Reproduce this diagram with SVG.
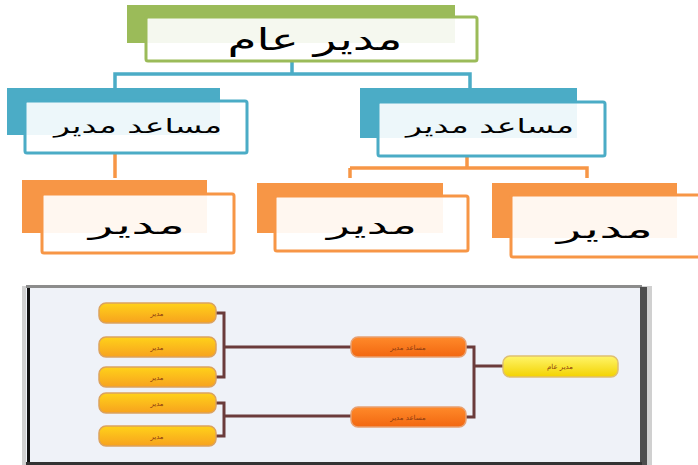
<svg xmlns="http://www.w3.org/2000/svg" width="698" height="465" viewBox="0 0 698 465">
<defs>
<style>
.t{font-family:"DejaVu Sans",sans-serif;fill:#000;text-anchor:middle}
.bk-b{fill:#4bacc6}
.fr-b{fill:#fff;fill-opacity:0.9;stroke:#4bacc6;stroke-width:3}
.bk-o{fill:#f79646}
.fr-o{fill:#fff;fill-opacity:0.92;stroke:#f79646;stroke-width:3}
.bk-g{fill:#9bbb59}
.fr-g{fill:#fff;fill-opacity:0.9;stroke:#9bbb59;stroke-width:3}
.cb{fill:none;stroke:#4bacc6;stroke-width:3.5}
.co{fill:none;stroke:#f79646;stroke-width:3.5}
.cd{fill:none;stroke:#6b3b3b;stroke-width:3}
.pt{font-family:"DejaVu Sans",sans-serif;font-size:7px;fill:#8a3a10;text-anchor:middle}
</style>
<linearGradient id="gy" x1="0" y1="0" x2="0" y2="1"><stop offset="0" stop-color="#ffd21a"/><stop offset="1" stop-color="#f7a21e"/></linearGradient>
<linearGradient id="go" x1="0" y1="0" x2="0" y2="1"><stop offset="0" stop-color="#ff8a2a"/><stop offset="1" stop-color="#f26710"/></linearGradient>
<linearGradient id="gl" x1="0" y1="0" x2="0" y2="1"><stop offset="0" stop-color="#fff56a"/><stop offset="1" stop-color="#f3d200"/></linearGradient>
</defs>
<rect width="698" height="465" fill="#fff"/>
<g id="connectors">
<path class="cb" d="M292 61V74M115 88V74H470V88"/>
<path class="co" d="M115 153V178M467 156V168M350 168V178M350 168H587V178"/>
</g>
<g id="gm">
<rect class="bk-g" x="127" y="5" width="328" height="38"/>
<rect class="fr-g" x="146" y="17" width="331" height="44" rx="2"/>
<text class="t" x="315" y="50" font-size="30" textLength="175" lengthAdjust="spacingAndGlyphs">مدير عام</text>
</g>
<g id="am1">
<rect class="bk-b" x="7" y="88" width="213" height="47"/>
<rect class="fr-b" x="25" y="101" width="222" height="52" rx="2"/>
<text class="t" x="138" y="133" font-size="20" textLength="168" lengthAdjust="spacingAndGlyphs">مساعد مدير</text>
</g>
<g id="am2">
<rect class="bk-b" x="360" y="88" width="217" height="50"/>
<rect class="fr-b" x="378" y="102" width="227" height="54" rx="2"/>
<text class="t" x="490" y="133" font-size="20" textLength="168" lengthAdjust="spacingAndGlyphs">مساعد مدير</text>
</g>
<g id="m1">
<rect class="bk-o" x="22" y="180" width="185" height="53"/>
<rect class="fr-o" x="42" y="194" width="192" height="59" rx="2"/>
<text class="t" x="137" y="234" font-size="25" textLength="96" lengthAdjust="spacingAndGlyphs">مدير</text>
</g>
<g id="m2">
<rect class="bk-o" x="257" y="183" width="186" height="50"/>
<rect class="fr-o" x="275" y="196" width="193" height="55" rx="2"/>
<text class="t" x="372" y="234" font-size="25" textLength="90" lengthAdjust="spacingAndGlyphs">مدير</text>
</g>
<g id="m3">
<rect class="bk-o" x="492" y="183" width="185" height="55"/>
<rect class="fr-o" x="511" y="195" width="200" height="62" rx="2"/>
<text class="t" x="605" y="238" font-size="25" textLength="96" lengthAdjust="spacingAndGlyphs">مدير</text>
</g>
<g id="panel">
<rect x="22" y="286" width="630" height="179" fill="#d0d0d0"/>
<rect x="26" y="287" width="615" height="176" fill="#eff2f8"/>
<rect x="26" y="285" width="616" height="3" fill="#8c8c8c"/>
<rect x="27" y="288" width="3" height="176" fill="#111"/>
<rect x="640" y="287" width="7" height="178" fill="#4d4d4d"/>
<rect x="26" y="462" width="616" height="3" fill="#333"/>
<g id="panel-connectors">
<path class="cd" d="M216 313H224V377H216M224 347H351M216 403H224V436H216M224 416H351M466 347H474V417H466M474 366H503"/>
</g>
<g id="p1"><rect x="99" y="303" width="117" height="20" rx="7" fill="url(#gy)" stroke="#dca25e" stroke-width="1.5"/><text class="pt" x="157" y="316">مدير</text></g>
<g id="p2"><rect x="99" y="337" width="117" height="20" rx="7" fill="url(#gy)" stroke="#dca25e" stroke-width="1.5"/><text class="pt" x="157" y="350">مدير</text></g>
<g id="p3"><rect x="99" y="367" width="117" height="20" rx="7" fill="url(#gy)" stroke="#dca25e" stroke-width="1.5"/><text class="pt" x="157" y="380">مدير</text></g>
<g id="p4"><rect x="99" y="393" width="117" height="20" rx="7" fill="url(#gy)" stroke="#dca25e" stroke-width="1.5"/><text class="pt" x="157" y="406">مدير</text></g>
<g id="p5"><rect x="99" y="426" width="117" height="20" rx="7" fill="url(#gy)" stroke="#dca25e" stroke-width="1.5"/><text class="pt" x="157" y="439">مدير</text></g>
<g id="p6"><rect x="351" y="337" width="115" height="20" rx="7" fill="url(#go)" stroke="#e8a070" stroke-width="1.5"/><text class="pt" x="408" y="350" fill="#5a2a10">مساعد مدير</text></g>
<g id="p7"><rect x="351" y="407" width="115" height="20" rx="7" fill="url(#go)" stroke="#e8a070" stroke-width="1.5"/><text class="pt" x="408" y="420" fill="#5a2a10">مساعد مدير</text></g>
<g id="p8"><rect x="503" y="356" width="115" height="21" rx="7" fill="url(#gl)" stroke="#e0c070" stroke-width="1.5"/><text class="pt" x="560" y="369">مدير عام</text></g>
</g>
</svg>
